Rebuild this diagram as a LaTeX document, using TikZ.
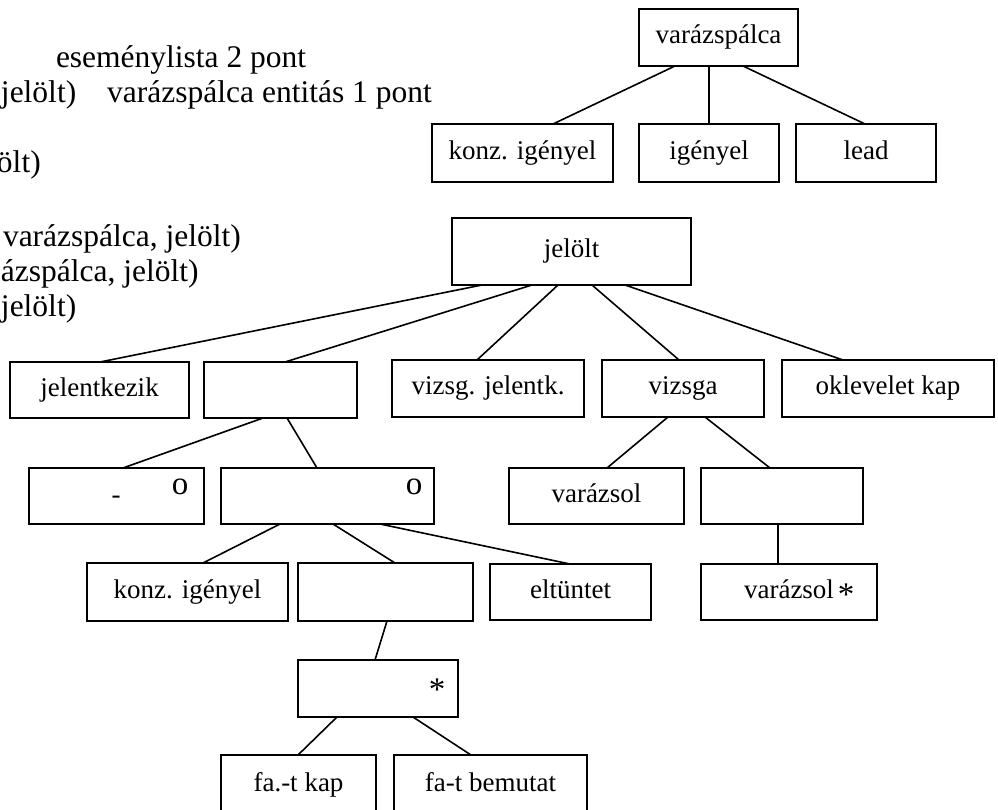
\documentclass[tikz,border=0pt]{standalone}
\usepackage{fontspec}
\setmainfont{Liberation Serif}
\usetikzlibrary{calc}
\newcommand\bxfont{\fontsize{27}{30}\selectfont}
\newcommand\lffont{\fontsize{31.5}{36}\selectfont}
\newcommand\omfont{\fontsize{33}{33}\selectfont}
\tikzset{
  box/.style={draw, line width=1.6pt, inner sep=0pt, outer sep=0pt, font=\bxfont,
              text height=18.5pt, text depth=6pt},
  cn/.style={line width=1.6pt},
  lt/.style={anchor=base west, inner sep=0pt, outer sep=0pt, font=\lffont},
  sym/.style={inner sep=0pt, outer sep=0pt}
}
\begin{document}
\begin{tikzpicture}[x=1pt,y=-1pt]
\useasboundingbox (0,0) rectangle (998,809);
\clip (0,0) rectangle (998,809);
\fill[white] (0,0) rectangle (998,809);

% left text (cut at the left margin)
\node[lt] (t1) at (56,67) {eseménylista 2 pont};
\node[lt] (t2) at (1,102) {jelölt)\hspace{31pt}varázspálca entitás 1 pont};
\node[lt] (t3) at (-3,172) {ölt)};
\node[lt] (t4) at (3,246) {varázspálca, jelölt)};
\node[lt] (t5) at (1,281) {ázspálca, jelölt)};
\node[lt] (t6) at (1,316) {jelölt)};

% top tree
\node[box, minimum width=159, minimum height=57] (vp) at (718.5,37.5) {varázspálca};
\node[box, minimum width=181, minimum height=58] (kz1) at (522.5,153) {konz. igényel};
\node[box, minimum width=140, minimum height=58] (ig) at (709,153) {igényel};
\node[box, minimum width=140, minimum height=58] (lead) at (866,153) {lead};

% main tree
\node[box, minimum width=239, minimum height=67] (jel) at (571.5,251.5) {jelölt};
\node[box, minimum width=179, minimum height=56] (jk) at (99.5,390) {jelentkezik};
\node[box, minimum width=153, minimum height=56] (e1) at (280.5,390) {};
\node[box, minimum width=192, minimum height=57] (vj) at (488,388.5) {vizsg. jelentk.};
\node[box, minimum width=162, minimum height=57] (vz) at (683,388.5) {vizsga};
\node[box, minimum width=212, minimum height=57] (ok) at (888,388.5) {oklevelet kap};

\node[box, minimum width=175, minimum height=56] (m1) at (116.5,496) {};
\node[box, minimum width=213, minimum height=56] (m2) at (327.5,496) {};
\node[box, minimum width=175, minimum height=56] (vs) at (596.5,496) {varázsol};
\node[box, minimum width=162, minimum height=56] (e2) at (782,496) {};

\node[box, minimum width=201, minimum height=58] (kz2) at (187.5,592) {konz. igényel};
\node[box, minimum width=175, minimum height=58] (e3) at (385.5,592) {};
\node[box, minimum width=161, minimum height=56] (el) at (570.5,592) {eltüntet};
\node[box, minimum width=176, minimum height=56] (vs2) at (789,592) {varázsol};

\node[box, minimum width=160, minimum height=57] (st) at (378,688.5) {};
\node[box, minimum width=155, minimum height=60] (fk) at (298.5,785) {fa.-t kap};
\node[box, minimum width=193, minimum height=60] (fb) at (490.5,785) {fa-t bemutat};

% marks inside boxes
\node[sym, font=\omfont] (o1) at (180,487) {o};
\node[sym, font=\omfont] (o2) at (414,487) {o};
\node[sym, anchor=base, font=\bxfont] (d1) at (116,503) {-};
\node[sym, anchor=base, font=\omfont] (s1) at (437,700) {*};
\node[sym, anchor=base, font=\omfont] (s2) at (846,605) {*};

% connectors
\draw[cn] ($(vp.south west)+(36,0)$) -- ($(kz1.north west)+(121,0)$);
\draw[cn] ($(vp.south west)+(70,0)$) -- ($(ig.north west)+(70,0)$);
\draw[cn] ($(vp.south west)+(104,0)$) -- ($(lead.north west)+(69,0)$);

\draw[cn] ($(jel.south west)+(30,0)$) -- ($(jk.north west)+(90,0)$);
\draw[cn] ($(jel.south west)+(80,0)$) -- ($(e1.north west)+(81,0)$);
\draw[cn] ($(jel.south west)+(106,0)$) -- ($(vj.north west)+(85,0)$);
\draw[cn] ($(jel.south west)+(140,0)$) -- ($(vz.north west)+(77,0)$);
\draw[cn] ($(jel.south west)+(173,0)$) -- ($(ok.north west)+(61,0)$);

\draw[cn] ($(e1.south west)+(59,0)$) -- ($(m1.north west)+(94,0)$);
\draw[cn] ($(e1.south west)+(83,0)$) -- ($(m2.north west)+(96,0)$);
\draw[cn] ($(vz.south west)+(66,0)$) -- ($(vs.north west)+(98,0)$);
\draw[cn] ($(vz.south west)+(103,0)$) -- ($(e2.north west)+(69,0)$);
\draw[cn] ($(e2.south west)+(77,0)$) -- ($(vs2.north west)+(77,0)$);

\draw[cn] ($(m2.south west)+(59,0)$) -- ($(kz2.north west)+(116,0)$);
\draw[cn] ($(m2.south west)+(112,0)$) -- ($(e3.north west)+(97,0)$);
\draw[cn] ($(m2.south west)+(159,0)$) -- ($(el.north west)+(80,0)$);
\draw[cn] ($(e3.south west)+(89,0)$) -- ($(st.north west)+(77,0)$);
\draw[cn] ($(st.south west)+(39,0)$) -- ($(fk.north west)+(77,0)$);
\draw[cn] ($(st.south west)+(115,0)$) -- ($(fb.north west)+(77,0)$);
\end{tikzpicture}
\end{document}
